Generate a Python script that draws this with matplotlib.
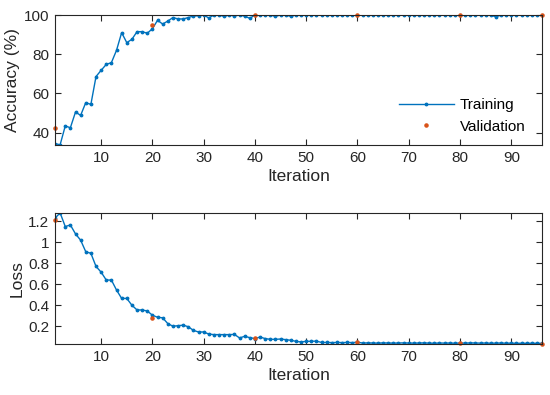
import matplotlib
matplotlib.use("Agg")
import matplotlib.pyplot as plt
import numpy as np

plt.rcParams['font.family'] = ['Liberation Sans', 'DejaVu Sans']

iterations = list(range(1, 97))
train_acc = [34.4, 33.8, 43.4, 42.5, 50.5, 48.8, 55.3, 54.4, 68.6, 71.8,
             74.8, 75.7, 82.0, 91.0, 85.9, 87.6, 91.5, 91.5, 90.7, 93.0,
             97.3, 95.4, 96.9, 98.7, 98.0, 98.0, 98.7, 99.5, 99.6, 100.0,
             98.5, 100.0, 100.0, 99.3, 100.0, 99.5, 100.0, 99.4, 98.3, 100.0,
             100.0, 100.0, 100.0, 99.3, 100.0, 100.0, 99.3, 100.0, 100.0, 100.0,
             100.0, 100.0, 100.0, 100.0, 100.0, 100.0, 100.0, 100.0, 100.0, 100.0,
             100.0, 100.0, 100.0, 100.0, 100.0, 100.0, 100.0, 100.0, 100.0, 100.0,
             100.0, 100.0, 100.0, 100.0, 100.0, 100.0, 100.0, 100.0, 100.0, 100.0,
             100.0, 100.0, 100.0, 100.0, 100.0, 100.0, 99.0, 100.0, 100.0, 100.0,
             100.0, 100.0, 100.0, 100.0, 100.0, 100.0]
train_loss = [1.23, 1.28, 1.15, 1.165, 1.08, 1.02, 0.91, 0.895, 0.77, 0.715,
              0.64, 0.64, 0.545, 0.465, 0.465, 0.40, 0.355, 0.355, 0.345, 0.305,
              0.285, 0.28, 0.225, 0.20, 0.205, 0.21, 0.195, 0.16, 0.145, 0.145,
              0.125, 0.12, 0.12, 0.12, 0.12, 0.122, 0.088, 0.104, 0.091, 0.082,
              0.097, 0.082, 0.075, 0.075, 0.078, 0.072, 0.066, 0.056, 0.05, 0.056,
              0.056, 0.058, 0.045, 0.045, 0.044, 0.045, 0.044, 0.045, 0.044, 0.047,
              0.040, 0.041, 0.040, 0.039, 0.041, 0.040, 0.039, 0.040, 0.041, 0.040,
              0.039, 0.040, 0.041, 0.039, 0.038, 0.040, 0.039, 0.040, 0.038, 0.040,
              0.039, 0.041, 0.040, 0.039, 0.040, 0.038, 0.039, 0.040, 0.038, 0.039,
              0.037, 0.038, 0.037, 0.038, 0.037, 0.037]
val_iter = [1, 20, 40, 60, 80, 96]
val_acc = [42.3, 94.7, 100.0, 100.0, 100.0, 100.0]
val_loss = [1.21, 0.283, 0.085, 0.05, 0.04, 0.034]

blue = '#0072BD'
orange = '#D95319'

fig = plt.figure(figsize=(5.5, 3.95), dpi=100)
ax1 = fig.add_axes([0.1, 0.633, 0.8855, 0.329])
ax2 = fig.add_axes([0.1, 0.129, 0.8855, 0.332])

for ax in (ax1, ax2):
    ax.tick_params(direction='in', top=True, right=True, labelsize=11,
                   length=4.5, width=0.8, colors='#262626', pad=4)
    for s in ax.spines.values():
        s.set_linewidth(0.8)
        s.set_color('#262626')
    ax.set_xlim(1, 96)
    ax.set_xticks([10, 20, 30, 40, 50, 60, 70, 80, 90])
    ax.set_xlabel('Iteration', fontsize=12.5, color='#262626', labelpad=3)

ax1.plot(iterations, train_acc, '-', color=blue, lw=1.0, marker='.', ms=3.5, label='Training')
ax1.plot(val_iter, val_acc, '.', color=orange, ms=4.5, label='Validation', clip_on=False)
ax1.set_ylim(33.7, 100)
ax1.set_yticks([40, 60, 80, 100])
ax1.set_ylabel('Accuracy (%)', fontsize=12.5, color='#262626', labelpad=3)
leg = ax1.legend(loc='lower right', bbox_to_anchor=(0.995, -0.02), frameon=False,
                 fontsize=11, handlelength=3.6, handletextpad=0.4, labelspacing=0.5)

ax2.plot(iterations, train_loss, '-', color=blue, lw=1.0, marker='.', ms=3.5)
ax2.plot(val_iter, val_loss, '.', color=orange, ms=4.5, clip_on=False)
ax2.set_ylim(0.03, 1.28)
ax2.set_yticks([0.2, 0.4, 0.6, 0.8, 1.0, 1.2])
ax2.set_yticklabels(['0.2', '0.4', '0.6', '0.8', '1', '1.2'])
ax2.set_ylabel('Loss', fontsize=12.5, color='#262626', labelpad=3)

fig.savefig('out.png', dpi=100)
